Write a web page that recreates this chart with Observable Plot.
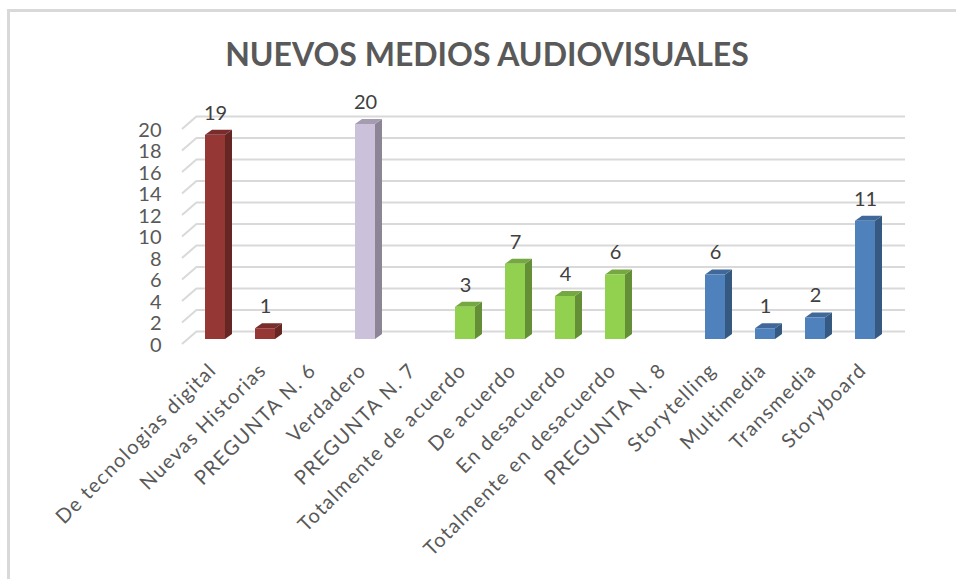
<!DOCTYPE html>
<html><head><meta charset="utf-8">
<script src="https://cdn.jsdelivr.net/npm/d3@7"></script>
<script src="https://cdn.jsdelivr.net/npm/@observablehq/plot@0.6"></script>
<style>
body{margin:0;background:#fff;font-family:Lato,sans-serif}
#wrap{position:relative;width:956px;height:579px;overflow:hidden}
#frame{position:absolute;left:7px;top:9px;right:0;bottom:0;border-top:3px solid #d9d9d9;border-left:3px solid #d9d9d9;pointer-events:none}
#title{height:80px;box-sizing:border-box;padding-top:38px;padding-left:18px;text-align:center;font:bold 32px/32px Lato;color:#595959;white-space:nowrap}
</style></head><body>
<div id="wrap"><div id="frame"></div><div id="title">NUEVOS MEDIOS AUDIOVISUALES</div><div id="chart"></div></div>
<script>
const categories = ["De tecnologias digital","Nuevas Historias","PREGUNTA N. 6","Verdadero","PREGUNTA N. 7","Totalmente de acuerdo","De acuerdo","En desacuerdo","Totalmente en desacuerdo","PREGUNTA N. 8","Storytelling","Multimedia","Transmedia","Storyboard"];
const values = [19, 1, null, 20, null, 3, 7, 4, 6, null, 6, 1, 2, 11];
const questions = ["N5","N5",null,"N6",null,"N7","N7","N7","N7",null,"N8","N8","N8","N8"];
const questionNames = ["N5","N6","N7","N8"];
const yTicks = [0,2,4,6,8,10,12,14,16,18,20];

const data = categories.map((c, i) => ({category: c, value: values[i], question: questions[i]}));
const barsData = data.filter(d => d.value != null);

const INSET = 15, DX = 7, DY = 5;

function depth(index, scales) {
  const {x, y, color} = scales;
  const bw = x.bandwidth();
  const x0 = x.range()[0];
  const g = d3.create("svg:g");
  g.selectAll("line").data(yTicks).join("line")
    .attr("x1", x0 - 6).attr("y1", t => y(t) + 5)
    .attr("x2", x0 + 9).attr("y2", t => y(t) - 8)
    .attr("stroke", "#d9d9d9").attr("stroke-width", 2);
  for (const d of barsData) {
    const xl = x(d.category) + INSET, xr = x(d.category) + bw - INSET;
    const y0 = y(0), yv = y(d.value);
    const c = d3.color(color(d.question));
    g.append("path").attr("d", `M${xr},${y0}L${xr+DX},${y0-DY}L${xr+DX},${yv-DY}L${xr},${yv}Z`).attr("fill", c.darker(1.05).formatHex());
    g.append("path").attr("d", `M${xl},${yv}L${xl+DX},${yv-DY}L${xr+DX},${yv-DY}L${xr},${yv}Z`).attr("fill", c.darker(0.6).formatHex());
  }
  return g.node();
}

const chart = Plot.plot({
  width: 956,
  height: 499,
  marginLeft: 188,
  marginRight: 64,
  marginTop: 44,
  marginBottom: 240,
  style: {fontFamily: "Lato, sans-serif", fontSize: "20px", color: "#595959", background: "transparent"},
  x: {type: "band", domain: categories, padding: 0, axis: null},
  y: {domain: [0, 20], axis: null, nice: false},
  color: {domain: questionNames, range: ["#953735", "#ccc1da", "#92d050", "#4f81bd"]},
  marks: [
    Plot.ruleY(yTicks, {dy: -8, insetLeft: 9, insetRight: -13, stroke: "#d9d9d9", strokeWidth: 2}),
    depth,
    Plot.barY(barsData, {x: "category", y: "value", fill: "question", insetLeft: INSET, insetRight: INSET}),
    Plot.text(yTicks, {y: d => d, text: d => String(d), frameAnchor: "left", dx: -27, dy: 6, textAnchor: "end", fill: "#595959", fontSize: 20}),
    Plot.text(barsData, {x: "category", y: "value", text: d => String(d.value), dy: -22, fill: "#404040", fontSize: 20}),
    Plot.text(categories, {x: d => d, text: d => d, frameAnchor: "bottom", rotate: -45, textAnchor: "end", lineAnchor: "bottom", dx: 2, dy: 32, fill: "#595959", fontSize: 20})
  ]
});
const catSet = new Set(categories);
chart.querySelectorAll("text").forEach(t => {
  if (catSet.has(t.textContent)) {
    t.setAttribute("letter-spacing", "1.3");
    t.style.letterSpacing = "1.3px";
  }
});
document.getElementById("chart").appendChild(chart);
</script>
</body></html>
